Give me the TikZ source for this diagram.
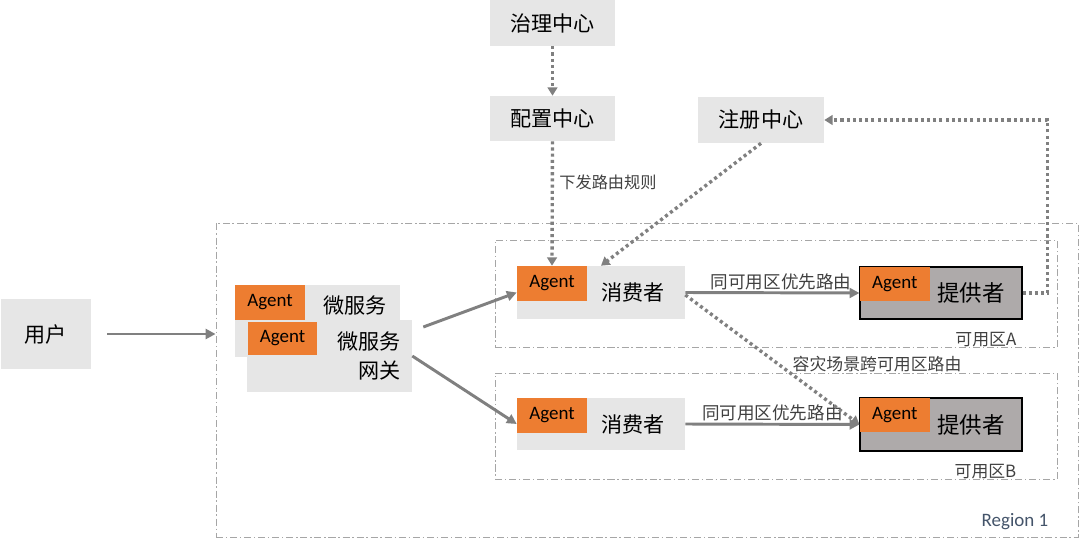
\documentclass[tikz,border=0pt]{standalone}
\usepackage{fontspec}
\setmainfont{Noto Sans CJK SC}
\newfontfamily\agentfont{Carlito}
\usetikzlibrary{arrows.meta}
\definecolor{boxgray}{HTML}{E6E6E6}
\definecolor{provgray}{HTML}{AEAAAA}
\definecolor{agentorange}{HTML}{ED7D31}
\definecolor{linegray}{HTML}{808080}
\definecolor{zonegray}{HTML}{A6A6A6}
\definecolor{regionblue}{HTML}{44546A}
\definecolor{lblgray}{HTML}{404040}
\tikzset{
  graybox/.style={fill=boxgray, inner sep=0pt},
  provbox/.style={fill=provgray, draw=black, line width=0.8pt, inner sep=0pt},
  agent/.style={fill=agentorange, inner sep=0pt, minimum width=1.75cm, minimum height=0.875cm, font=\agentfont\fontsize{13.5}{15}\selectfont},
  title/.style={inner sep=0pt, font=\fontsize{15}{20}\selectfont},
  lbl/.style={inner sep=1pt, text=lblgray, font=\fontsize{12.5}{15}\selectfont},
  zone/.style={draw=zonegray, line width=0.6pt, dash pattern=on 5pt off 2pt on 1pt off 2pt, inner sep=0pt},
  arr/.style={draw=linegray, line width=2.1pt, -{Triangle[width=7pt,length=7pt]}},
  dotarr/.style={draw=linegray, line width=2.4pt, dash pattern=on 2.2pt off 2.2pt, -{Triangle[width=7pt,length=6pt]}},
}

\begin{document}
\begin{tikzpicture}
\useasboundingbox (0,0) rectangle (27,-13.575);

% regions
\node[zone, minimum width=21.55cm, minimum height=7.85cm] (region) at (16.175,-9.5) {};
\node[zone, minimum width=14.05cm, minimum height=2.675cm] (zoneA) at (19.4,-7.3375) {};
\node[zone, minimum width=14.05cm, minimum height=2.65cm] (zoneB) at (19.4,-10.65) {};
\node[lbl, anchor=east, font=\fontsize{12}{14}\selectfont] (zoneAT) at (25.45,-8.5) {可用区A};
\node[lbl, anchor=east, font=\fontsize{12}{14}\selectfont] (zoneBT) at (25.45,-11.8) {可用区B};
\node[text=regionblue, font=\agentfont\fontsize{13.5}{16}\selectfont] (regionT) at (25.375,-13.05) {Region 1};

% centers
\node[graybox, title, minimum width=2.25cm, minimum height=1.75cm] (user) at (1.15,-8.35) {用户};
\node[graybox, title, minimum width=3.125cm, minimum height=1.15cm] (zhili) at (13.8125,-0.575) {治理中心};
\node[graybox, title, minimum width=3.125cm, minimum height=1.125cm] (peizhi) at (13.8125,-2.9625) {配置中心};
\node[graybox, title, minimum width=3.15cm, minimum height=1.15cm] (zhuce) at (19.025,-3.0) {注册中心};

% microservice and gateway
\node[graybox, minimum width=4.125cm, minimum height=1.8cm] (ms) at (7.9375,-8.025) {};
\node[agent, anchor=north west] (agMS) at (ms.north west) {Agent};
\node[title, anchor=east] (msT) at (9.675,-7.625) {微服务};
\node[graybox, minimum width=4.125cm, minimum height=1.8cm] (gw) at (8.2375,-8.9) {};
\node[agent, anchor=north west, minimum width=1.725cm, minimum height=0.825cm] (agGW) at ([xshift=0.025cm,yshift=-0.05cm]gw.north west) {Agent};
\node[title, anchor=east, align=right] (gwT) at (10.025,-8.9) {微服务\\网关};

% consumers and providers
\node[graybox, minimum width=4.2cm, minimum height=1.325cm] (consA) at (15.025,-7.3125) {};
\node[agent, anchor=north west] (agCA) at (consA.north west) {Agent};
\node[title] (consAT) at (15.825,-7.3) {消费者};
\node[provbox, minimum width=4.05cm, minimum height=1.3cm] (provA) at (23.525,-7.325) {};
\node[agent, anchor=north west, minimum height=0.85cm] (agPA) at (provA.north west) {Agent};
\node[title, font=\fontsize{16}{20}\selectfont] (provAT) at (24.275,-7.325) {提供者};

\node[graybox, minimum width=4.2cm, minimum height=1.3cm] (consB) at (15.025,-10.6) {};
\node[agent, anchor=north west] (agCB) at (consB.north west) {Agent};
\node[title] (consBT) at (15.825,-10.6) {消费者};
\node[provbox, minimum width=4.05cm, minimum height=1.325cm] (provB) at (23.525,-10.6125) {};
\node[agent, anchor=north west, minimum height=0.85cm] (agPB) at (provB.north west) {Agent};
\node[title, font=\fontsize{16}{20}\selectfont] (provBT) at (24.275,-10.6125) {提供者};

% connectors
\draw[arr, shorten <=0.4cm] (user.east) -- (user.east -| region.west);
\draw[arr] ([xshift=0.275cm,yshift=0.725cm]gw.east) -- (consA.west);
\draw[arr] (gw.east) -- (consB.west);
\draw[arr] (consA.east) -- (provA.west) node[lbl, pos=0.55, above] {同可用区优先路由};
\draw[arr] (consB.east) -- (provB.west) node[lbl, midway, above] {同可用区优先路由};
\draw[dotarr] (zhili.south) -- (peizhi.north);
\draw[dotarr] (peizhi.south) -- (agCA.north) node[lbl, pos=0.33, right=0.1cm, font=\fontsize{11.5}{14}\selectfont] {下发路由规则};
\draw[dotarr] (zhuce.south) -- (consA.north);
\draw[dotarr] (provA.east) -- ++(0.625,0) |- (zhuce.east);
\draw[dotarr] ([yshift=-0.06cm]consA.east) -- (provB.west) node[lbl, pos=0.53, right=0.3cm, font=\fontsize{12}{14}\selectfont] {容灾场景跨可用区路由};
\end{tikzpicture}
\end{document}
